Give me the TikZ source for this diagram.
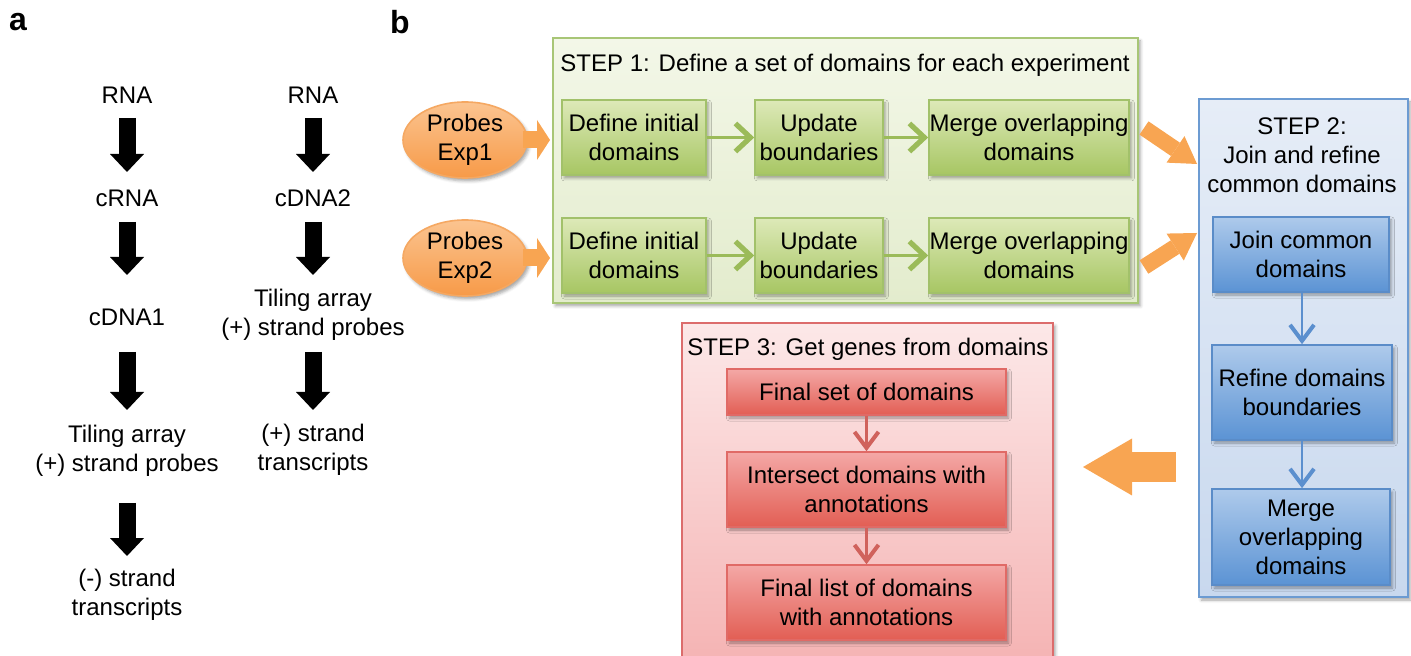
\documentclass[tikz,border=0pt]{standalone}
\usepackage{fontspec}
\setmainfont{Liberation Sans}
\usetikzlibrary{arrows.meta,shadows.blur,shapes.geometric}

% palette
\definecolor{gcTop}{HTML}{F3F7E8}
\definecolor{gcBot}{HTML}{E3ECCD}
\definecolor{gcLine}{HTML}{A8C676}
\definecolor{gbTop}{HTML}{DDE9B8}
\definecolor{gbBot}{HTML}{A7C663}
\definecolor{gbLine}{HTML}{A2C16A}
\definecolor{gArr}{HTML}{9BBB59}
\definecolor{bcTop}{HTML}{E6EDF7}
\definecolor{bcBot}{HTML}{C8D8EE}
\definecolor{bcLine}{HTML}{6C9BD2}
\definecolor{bbTop}{HTML}{AECAEB}
\definecolor{bbBot}{HTML}{5B93D4}
\definecolor{bbLine}{HTML}{5A8CC8}
\definecolor{bArr}{HTML}{5B8FCE}
\definecolor{rcTop}{HTML}{FCE8E8}
\definecolor{rcBot}{HTML}{F5B3B3}
\definecolor{rcLine}{HTML}{DC6C6C}
\definecolor{rbTop}{HTML}{F4A8A6}
\definecolor{rbBot}{HTML}{E25E54}
\definecolor{rbLine}{HTML}{E06A66}
\definecolor{rArr}{HTML}{D0625C}
\definecolor{oTop}{HTML}{FBC490}
\definecolor{oBot}{HTML}{F79A48}
\definecolor{oLine}{HTML}{F5A862}
\definecolor{oArr}{HTML}{F8A552}

\tikzset{
  txt/.style={font=\fontsize{12}{14.5}\selectfont, align=center, inner sep=0pt},
  panel/.style={font=\fontsize{16}{19}\selectfont\bfseries, inner sep=0pt},
  shade/.style={blur shadow={shadow xshift=1.2pt, shadow yshift=-1.5pt,
      shadow blur radius=1.5pt, shadow opacity=35}},
  container/.style={rectangle, line width=1pt, shade, inner sep=0pt},
  gcont/.style={container, draw=gcLine, top color=gcTop, bottom color=gcBot},
  bcont/.style={container, draw=bcLine, top color=bcTop, bottom color=bcBot},
  rcont/.style={container, draw=rcLine, top color=rcTop, bottom color=rcBot},
  stepbox/.style={txt, rectangle, line width=0.8pt, shade},
  gbox/.style={stepbox, draw=gbLine, top color=gbTop, bottom color=gbBot},
  bbox/.style={stepbox, draw=bbLine, top color=bbTop, bottom color=bbBot},
  rbox/.style={stepbox, draw=rbLine, top color=rbTop, bottom color=rbBot},
  probe/.style={txt, ellipse, draw=oLine, line width=0.8pt, top color=oTop,
      bottom color=oBot, minimum width=62pt, minimum height=38pt, shade},
  blk/.style={line width=8.5pt, black,
      -{Triangle[width=17pt, length=9pt, line width=0pt]}},
  garrow/.style={gArr, line width=1.4pt,
      -{Straight Barb[width=14pt, length=7.5pt, line width=2.6pt]}},
  barrow/.style={bArr, line width=1.1pt,
      -{Straight Barb[width=12pt, length=8pt, line width=2pt]}},
  rarrow/.style={rArr, line width=1.1pt,
      -{Straight Barb[width=12pt, length=8pt, line width=2pt]}},
  smallorange/.style={oArr, line width=8.5pt,
      -{Triangle[width=20pt, length=6.5pt, line width=0pt]}},
  diagorange/.style={oArr, line width=8pt,
      -{Triangle[width=16pt, length=13pt, line width=0pt]}},
  bigorange/.style={oArr, line width=15pt,
      -{Triangle[width=28.5pt, length=24.5pt, line width=0pt]}},
}

\begin{document}
\begin{tikzpicture}[x=0.5pt, y=-0.5pt]
\useasboundingbox (0,0) rectangle (1411,656);

% ---------- panel a ----------
\node[panel] (pa) at (18,22) {a};
\node[panel] (pb) at (400,22) {b};

\node[txt] (r1) at (127,95) {RNA};
\node[txt] (c1) at (127,198) {cRNA};
\node[txt] (d1) at (127,317) {cDNA1};
\node[txt] (t1) at (127,450.5) {Tiling array\\(+) strand probes};
\node[txt] (m1) at (127,594.5) {(-) strand\\transcripts};

\node[txt] (r2) at (313,95) {RNA};
\node[txt] (d2) at (313,198) {cDNA2};
\node[txt] (t2) at (313,315) {Tiling array\\(+) strand probes};
\node[txt] (p2) at (313,449.5) {(+) strand\\transcripts};

\draw[blk, shorten <=11.5pt, shorten >=13pt]    (r1.center) -- (c1.center);
\draw[blk, shorten <=12pt,   shorten >=21pt]    (c1.center) -- (d1.center);
\draw[blk, shorten <=17.5pt, shorten >=20.25pt] (d1.center) -- (t1.center);
\draw[blk, shorten <=26.25pt,shorten >=19.25pt] (t1.center) -- (m1.center);

\draw[blk, shorten <=11.5pt, shorten >=13pt]    (r2.center) -- (d2.center);
\draw[blk, shorten <=12pt,   shorten >=20pt]    (d2.center) -- (t2.center);
\draw[blk, shorten <=18.5pt, shorten >=19.75pt] (t2.center) -- (p2.center);

% ---------- panel b: containers ----------
\node[gcont, minimum width=292.5pt, minimum height=132.5pt] (s1) at (845.5,170.5) {};
\node[bcont, minimum width=104.5pt, minimum height=249pt]   (s2) at (1303.5,348) {};
\node[rcont, minimum width=185.5pt, minimum height=171pt]   (s3) at (867.5,494) {};

\node[txt] (s1t) at (845,65) {STEP 1: Define a set of domains for each experiment};
\node[txt] (s2t) at (1302,155.5) {STEP 2:\\Join and refine\\common domains};
\node[txt] (s3t) at (868,349) {STEP 3: Get genes from domains};

% step 1 boxes
\node[gbox, minimum width=72pt,  minimum height=37.5pt] (a1) at (634,137.5)  {Define initial\\domains};
\node[gbox, minimum width=64pt,  minimum height=37.5pt] (b1) at (819,137.5)  {Update\\boundaries};
\node[gbox, minimum width=100pt, minimum height=37.5pt] (m1b) at (1029,137.5) {Merge overlapping\\domains};
\node[gbox, minimum width=72pt,  minimum height=37.5pt] (a2) at (634,255.5)  {Define initial\\domains};
\node[gbox, minimum width=64pt,  minimum height=37.5pt] (b2) at (819,255.5)  {Update\\boundaries};
\node[gbox, minimum width=100pt, minimum height=37.5pt] (m2b) at (1029,255.5) {Merge overlapping\\domains};

\draw[garrow] (a1) -- (b1);
\draw[garrow] (b1) -- (m1b);
\draw[garrow] (a2) -- (b2);
\draw[garrow] (b2) -- (m2b);

% probes
\node[probe] (e1) at (465,140) {Probes\\Exp1};
\node[probe] (e2) at (465,258) {Probes\\Exp2};
\draw[smallorange, shorten <=-2.5pt, shorten >=1pt] (e1.east) -- (e1.east -| s1.west);
\draw[smallorange, shorten <=-2.5pt, shorten >=1pt] (e2.east) -- (e2.east -| s1.west);

% step 2 boxes
\node[bbox, minimum width=88pt, minimum height=37.5pt] (j)  at (1301,254.5) {Join common\\domains};
\node[bbox, minimum width=90pt, minimum height=47.5pt] (rf) at (1302,392.5) {Refine domains\\boundaries};
\node[bbox, minimum width=89pt, minimum height=48pt]   (mg) at (1301,537)   {Merge\\overlapping\\domains};
\draw[barrow] (j.south -| rf.north) -- (rf.north);
\draw[barrow] (rf) -- (rf.south |- mg.north);

% step 3 boxes
\node[rbox, minimum width=139.5pt, minimum height=23pt]   (fs) at (866.5,392)   {Final set of domains};
\node[rbox, minimum width=139.5pt, minimum height=37.5pt] (ix) at (866.5,489.5) {Intersect domains with\\annotations};
\node[rbox, minimum width=139.5pt, minimum height=37.5pt] (fl) at (866.5,602.5) {Final list of domains\\with annotations};
\draw[rarrow] (fs) -- (ix);
\draw[rarrow] (ix) -- (fl);

% block arrows between the steps
\coordinate (d1s) at (1144,128);
\coordinate (d1e) at (1197,164);
\coordinate (d2s) at (1144,267);
\coordinate (d2e) at (1197,233);
\coordinate (ls)  at (1176,467);
\coordinate (le)  at (1083,467);
\draw[diagorange] (d1s) -- (d1e);
\draw[diagorange] (d2s) -- (d2e);
\draw[bigorange] (ls) -- (le);
\end{tikzpicture}
\end{document}
